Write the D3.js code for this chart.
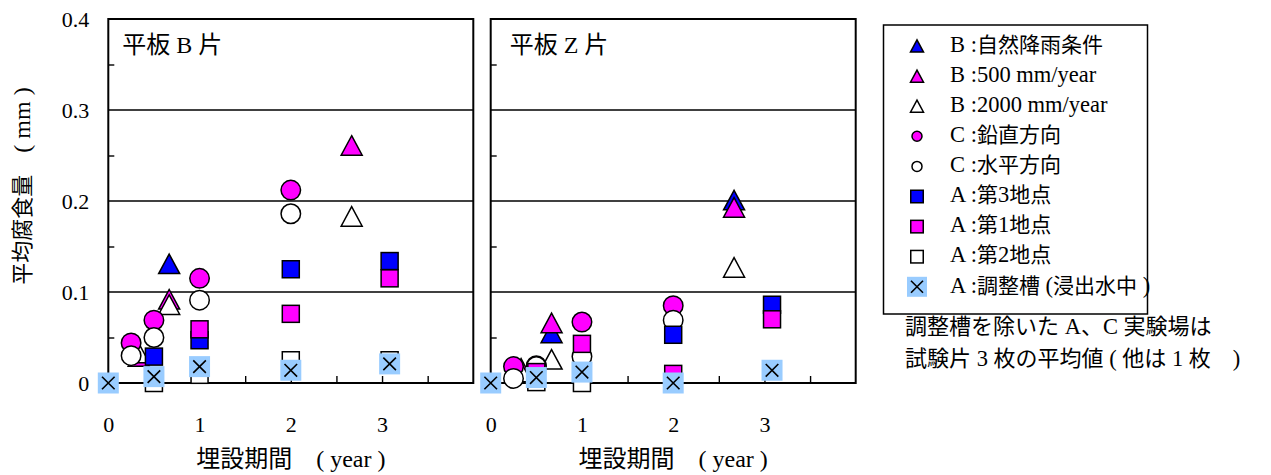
<!DOCTYPE html>
<html>
<head>
<meta charset="utf-8">
<script src="https://cdn.jsdelivr.net/npm/d3@7"></script>
<style>
  body { margin: 0; background: #fff; }
  svg text { white-space: pre; }
</style>
</head>
<body>
<div id="chart"></div>
<script>
// time points are in years, values are mean corrosion depth in mm

// 平板 B 片
const plateB_rain = [[0.667, 0.131]];
const plateB_500 = [[0.333, 0.029], [0.667, 0.092], [2.667, 0.261]];
const plateB_2000 = [[0.333, 0.033], [0.667, 0.086], [2.667, 0.183]];
const plateB_vert = [[0.25, 0.044], [0.5, 0.069], [1, 0.115], [2, 0.212]];
const plateB_horiz = [[0.25, 0.030], [0.5, 0.050], [1, 0.091], [2, 0.186]];
const plateB_site3 = [[0.5, 0.029], [1, 0.047], [2, 0.125], [3.083, 0.134]];
const plateB_site1 = [[1, 0.059], [2, 0.076], [3.083, 0.115]];
const plateB_site2 = [[0, 0], [0.5, 0], [1, 0.009], [2, 0.025], [3.083, 0.025]];
const plateB_tank = [[0, 0], [0.5, 0.007], [1, 0.018], [2, 0.014], [3.083, 0.021]];

// 平板 Z 片
const plateZ_rain = [[0.667, 0.055], [2.667, 0.201]];
const plateZ_500 = [[0.333, 0.016], [0.667, 0.066], [2.667, 0.193]];
const plateZ_2000 = [[0.333, 0.012], [0.667, 0.026], [2.667, 0.127]];
const plateZ_vert = [[0.25, 0.018], [0.5, 0.019], [1, 0.067], [2, 0.085]];
const plateZ_horiz = [[0.25, 0.005], [0.5, 0.018], [1, 0.029], [2, 0.069]];
const plateZ_site3 = [[2, 0.053], [3.083, 0.086]];
const plateZ_site1 = [[0.5, 0.012], [1, 0.043], [2, 0.010], [3.083, 0.070]];
const plateZ_site2 = [[0, 0], [0.5, 0.001], [1, 0], [2, 0], [3.083, 0.014]];
const plateZ_tank = [[0, 0], [0.5, 0.006], [1, 0.012], [2, 0], [3.083, 0.014]];

const panelTitles = ['平板 B 片', '平板 Z 片'];
const legendLabels = [
  'B :自然降雨条件',
  'B :500 mm/year',
  'B :2000 mm/year',
  'C :鉛直方向',
  'C :水平方向',
  'A :第3地点',
  'A :第1地点',
  'A :第2地点',
  'A :調整槽 (浸出水中 )',
];
const yTickValues = [0, 0.1, 0.2, 0.3, 0.4];
const yMinorValues = [0.05, 0.15, 0.25, 0.35];
const xLabelValues = [0, 1, 2, 3];
const xMinorValues = [0.5, 1, 1.5, 2, 2.5, 3, 3.5];
const noteLines = ['調整槽を除いた A、C 実験場は', '試験片 3 枚の平均値 ( 他は 1 枚　)'];

const panelSeries = [
  [plateB_rain, plateB_500, plateB_2000, plateB_vert, plateB_horiz, plateB_site3, plateB_site1, plateB_site2, plateB_tank],
  [plateZ_rain, plateZ_500, plateZ_2000, plateZ_vert, plateZ_horiz, plateZ_site3, plateZ_site1, plateZ_site2, plateZ_tank],
];

// marker style per series (same order as the legend)
const seriesShapes = ['triangle', 'triangle', 'triangle', 'circle', 'circle', 'square', 'square', 'square', 'cross'];
const seriesFills = ['#0000ff', '#ff00ff', '#ffffff', '#ff00ff', '#ffffff', '#0000ff', '#ff00ff', '#ffffff', '#99ccff'];

const serifFont = "'Liberation Serif', 'Times New Roman', serif";
const cjkFont = "'Noto Sans CJK JP', 'Noto Sans', sans-serif";
const cjkTest = /[\u3000-\u30ff\u3400-\u9fff\uff00-\uffef]/;

const chartSize = { triangle: 21, circle: 19.5, square: 17, cross: 21 };
const legendSize = { triangle: 13, circle: 10, square: 12.5, cross: 20 };

const panelLefts = [108.3, 490.7];
const panelWidth = 365;
const plotTop = 19;
const plotBottom = 383;

/**
 * split text into CJK / latin runs and give each its own font
 */
const addRuns = (text, str, serifSize, cjkSize) => {
  const parts = str.match(/[\u3000-\u30ff\u3400-\u9fff\uff00-\uffef]+|[^\u3000-\u30ff\u3400-\u9fff\uff00-\uffef]+/g);
  parts.forEach((p) => {
    const cjk = cjkTest.test(p);
    text
      .append('tspan')
      .text(p)
      .style('font-family', cjk ? cjkFont : serifFont)
      .style('font-size', (cjk ? cjkSize : serifSize) + 'px');
  });
  return text;
};

const drawMarker = (g, shape, fill, s) => {
  if (shape === 'triangle') {
    const h = s * 0.93;
    g.append('path')
      .attr('d', `M0,${-h / 2}L${s / 2},${h / 2}L${-s / 2},${h / 2}Z`)
      .attr('fill', fill)
      .attr('stroke', '#000')
      .attr('stroke-width', 1.5)
      .attr('stroke-linejoin', 'miter');
  } else if (shape === 'circle') {
    g.append('circle').attr('r', s / 2).attr('fill', fill).attr('stroke', '#000').attr('stroke-width', 1.5);
  } else if (shape === 'square') {
    g.append('rect')
      .attr('x', -s / 2).attr('y', -s / 2).attr('width', s).attr('height', s)
      .attr('fill', fill).attr('stroke', '#000').attr('stroke-width', 1.5);
  } else {
    g.append('rect')
      .attr('x', -s / 2).attr('y', -s / 2).attr('width', s).attr('height', s)
      .attr('fill', fill);
    const d = s * 0.3;
    g.append('path')
      .attr('d', `M${-d},${-d}L${d},${d}M${-d},${d}L${d},${-d}`)
      .attr('stroke', '#000')
      .attr('stroke-width', 1.6)
      .attr('fill', 'none');
  }
};

const svg = d3
  .select('#chart')
  .append('svg')
  .attr('width', 1271)
  .attr('height', 475)
  .style('background', '#fff');

const y = d3.scaleLinear().domain([0, 0.4]).range([plotBottom, plotTop]);

panelSeries.forEach((seriesList, p) => {
  const left = panelLefts[p];
  const x = d3.scaleLinear().domain([0, 4]).range([left, left + panelWidth]);
  const g = svg.append('g');

  // gridlines
  g.selectAll('.grid')
    .data([0.1, 0.2, 0.3])
    .join('line')
    .attr('x1', left)
    .attr('x2', left + panelWidth)
    .attr('y1', (d) => y(d))
    .attr('y2', (d) => y(d))
    .attr('stroke', '#000')
    .attr('stroke-width', 1.4);

  // minor ticks, inward
  const yMinor = g.append('g')
    .attr('transform', `translate(${left},0)`)
    .call(d3.axisLeft(y).tickValues(yMinorValues).tickSize(-6).tickFormat(''));
  yMinor.select('.domain').remove();
  yMinor.selectAll('line').attr('stroke-width', 1.4);

  const xMinor = g.append('g')
    .attr('transform', `translate(0,${plotBottom})`)
    .call(d3.axisBottom(x).tickValues(xMinorValues).tickSize(-7).tickFormat(''));
  xMinor.select('.domain').remove();
  xMinor.selectAll('line').attr('stroke-width', 1.4);

  // frame
  g.append('rect')
    .attr('x', left)
    .attr('y', plotTop)
    .attr('width', panelWidth)
    .attr('height', plotBottom - plotTop)
    .attr('fill', 'none')
    .attr('stroke', '#000')
    .attr('stroke-width', 2);

  // tick labels
  if (p === 0) {
    const yLab = g.append('g')
      .attr('transform', `translate(${left},0)`)
      .call(d3.axisLeft(y).tickValues(yTickValues).tickSize(0).tickPadding(19)
        .tickFormat((d) => (d === 0 ? '0' : d.toFixed(1))));
    yLab.select('.domain').remove();
    yLab.selectAll('text').attr('font-family', serifFont).attr('font-size', 22).attr('fill', '#000');
  }
  const xLab = g.append('g')
    .attr('transform', `translate(0,${plotBottom})`)
    .call(d3.axisBottom(x).tickValues(xLabelValues).tickSize(0).tickPadding(33).tickFormat(d3.format('d')));
  xLab.select('.domain').remove();
  xLab.selectAll('text').attr('font-family', serifFont).attr('font-size', 22).attr('fill', '#000');

  // panel title
  addRuns(
    g.append('text').attr('x', left + (p === 0 ? 14 : 19)).attr('y', 53).attr('fill', '#000'),
    panelTitles[p], 24, 24
  );

  // x axis title
  addRuns(
    g.append('text')
      .attr('x', left + panelWidth / 2)
      .attr('y', 467)
      .attr('text-anchor', 'middle')
      .attr('fill', '#000'),
    '埋設期間　( year )', 24, 24
  );

  // markers
  seriesList.forEach((points, i) => {
    points.forEach(([yr, mm]) => {
      const m = g.append('g').attr('transform', `translate(${x(yr)},${y(mm)})`);
      drawMarker(m, seriesShapes[i], seriesFills[i], chartSize[seriesShapes[i]]);
    });
  });
});

// y axis title
addRuns(
  svg.append('text')
    .attr('transform', 'translate(30,186) rotate(-90)')
    .attr('text-anchor', 'middle')
    .attr('fill', '#000'),
  '平均腐食量　( mm )', 24, 22
);

// legend
const legend = svg.append('g');
legend.append('rect')
  .attr('x', 883.5)
  .attr('y', 25)
  .attr('width', 264)
  .attr('height', 289)
  .attr('fill', '#fff')
  .attr('stroke', '#000')
  .attr('stroke-width', 1.5);

legendLabels.forEach((label, i) => {
  const rowY = 46 + i * 30.1;
  const m = legend.append('g').attr('transform', `translate(917,${rowY})`);
  drawMarker(m, seriesShapes[i], seriesFills[i], legendSize[seriesShapes[i]]);
  addRuns(
    legend.append('text').attr('x', 950).attr('y', rowY).attr('dy', '0.36em').attr('fill', '#000'),
    label, 22.5, 21
  );
});

// note under the legend
noteLines.forEach((line, i) => {
  addRuns(
    svg.append('text').attr('x', 905).attr('y', 328 + i * 32).attr('dy', '0.36em').attr('fill', '#000'),
    line, 22.5, 22
  );
});
</script>
</body>
</html>
